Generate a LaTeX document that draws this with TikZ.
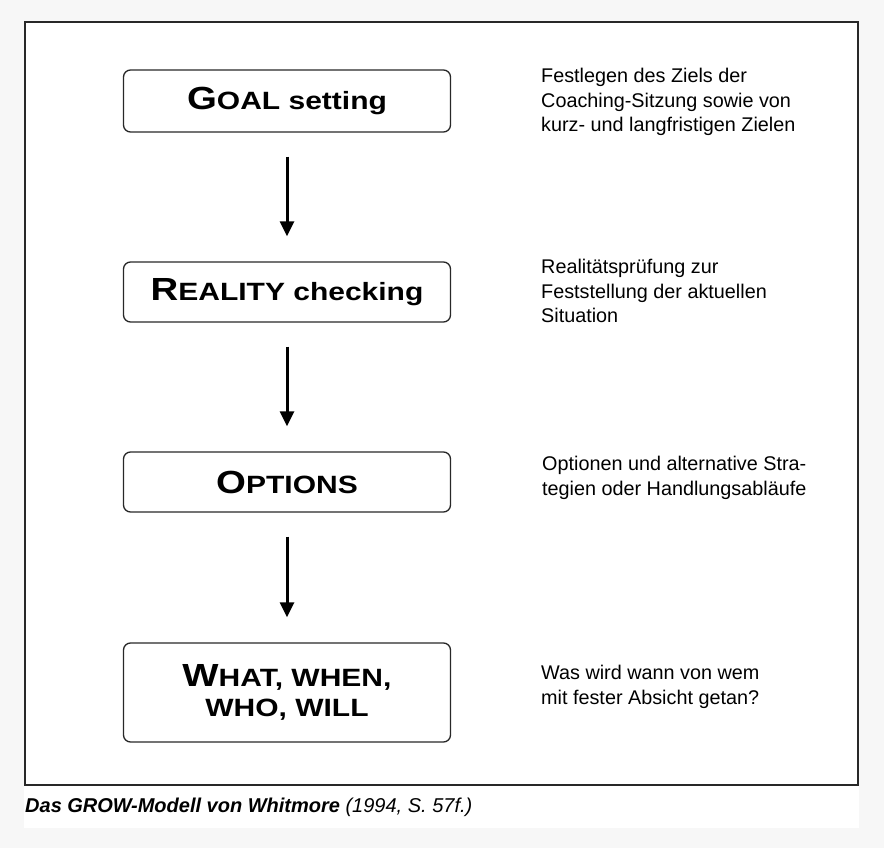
\documentclass[tikz,border=0pt]{standalone}
\usepackage{fontspec}
\setmainfont{Liberation Sans}
\newfontfamily\stagefont[FakeStretch=1.2]{Liberation Sans}
\usetikzlibrary{arrows.meta,positioning}
\definecolor{growframe}{RGB}{40, 40, 40}
\definecolor{growpage}{RGB}{247, 247, 247}
\newcommand{\stageinit}[1]{{\fontsize{32}{32}\selectfont #1}}

\begin{document}
\begin{tikzpicture}[x=1pt, y=-1pt]
    \tikzset{
        stage/.style={draw=growframe, line width=1.3pt, rounded corners=7pt,
                      minimum width=327pt, minimum height=60pt, align=center,
                      font=\stagefont\bfseries\fontsize{25}{30}\selectfont},
        note/.style={anchor=north west, align=left, inner sep=0pt,
                     font=\fontsize{19.8}{24.5}\selectfont},
        flow/.style={-{Triangle[width=14pt,length=15pt]}, line width=3pt,
                     shorten <=24pt, shorten >=25pt}
    }
    \useasboundingbox (0,0) rectangle (884,848);

    % Page and frame
    \fill[growpage] (0,0) rectangle (884,848);
    \fill[white] (24,21) rectangle (859,828);
    \draw[growframe, line width=2pt] (25,22) rectangle (858,785);

    % Stages
    \node[stage, minimum height=62pt] (goal) at (287,101) {\stageinit{G}OAL setting};
    \node[stage] (reality) at (287,292) {\stageinit{R}EALITY checking};
    \node[stage] (options) at (287,482) {\stageinit{O}PTIONS};
    \node[stage, minimum height=99pt] (will) at (287,692.5) {\stageinit{W}HAT, WHEN,\\WHO, WILL};

    % Notes
    \node[note] (goalnote) at (541,68) {Festlegen des Ziels der\\Coaching-Sitzung sowie von\\kurz- und langfristigen Zielen};
    \node[note] (realitynote) at (541,259) {Realitätsprüfung zur\\Feststellung der aktuellen\\Situation};
    \node[note] (optionsnote) at (542,456) {Optionen und alternative Stra-\\tegien oder Handlungsabläufe};
    \node[note] (willnote) at (541,665) {Was wird wann von wem\\mit fester Absicht getan?};

    % Connections
    \draw[flow] (goal) -- (reality);
    \draw[flow] (reality) -- (options);
    \draw[flow] (options) -- (will);

    % Caption
    \node[anchor=base west, inner sep=0pt, font=\fontsize{20}{24}\selectfont] (caption) at (25,812)
        {\textbf{\textit{Das GROW-Modell von Whitmore}} \textit{(1994, S. 57f.)}};
\end{tikzpicture}
\end{document}
